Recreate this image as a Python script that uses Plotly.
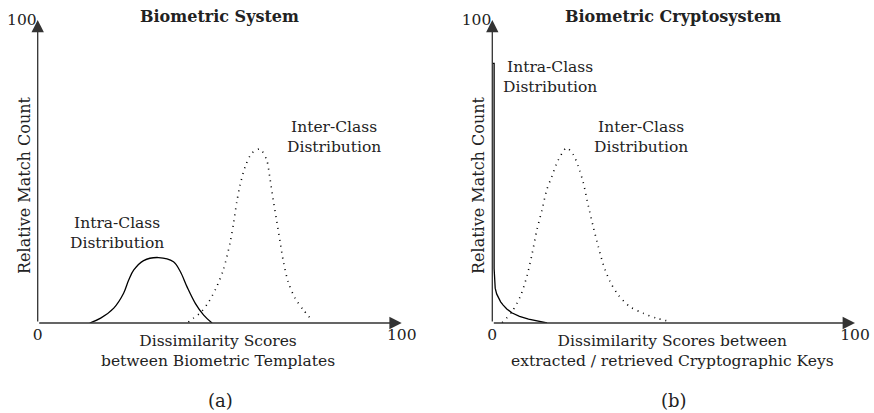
import plotly.graph_objects as go

W, H = 874, 413

# ---- data (x: dissimilarity score 0-100, y: relative match count 0-100)
a_intra_x = [14.3, 17.3, 20.9, 23.6, 25.0, 26.4, 29.1, 33.2, 37.3, 39.2, 41.0, 43.3, 45.6, 47.9]
a_intra_y = [0.0, 1.6, 4.9, 9.8, 14.2, 17.5, 20.6, 21.6, 20.2, 16.9, 12.0, 6.5, 2.6, 0.0]

a_inter_x = [41.4, 42.8, 44.7, 47.0, 49.0, 51.0, 52.9, 53.8, 54.7, 55.6, 57.0, 58.8, 61.1,
             62.9, 63.8, 64.7, 65.7, 66.6, 67.5, 68.8, 70.7, 73.0, 75.3]
a_inter_y = [0.3, 1.6, 3.4, 7.0, 11.5, 17.5, 26.8, 32.9, 40.0, 45.5, 51.6, 56.0, 57.4,
             53.8, 47.8, 40.6, 33.4, 26.8, 20.2, 13.6, 8.2, 4.3, 1.0]

b_intra_x = [0.0, 0.5, 0.5, 0.6, 0.8, 1.2, 1.7, 2.3, 3.0, 4.0, 5.5, 7.5, 10.0, 12.5, 15.1]
b_intra_y = [85.7, 85.7, 18.0, 14.0, 11.5, 9.6, 8.2, 7.0, 5.9, 4.6, 3.3, 2.2, 1.3, 0.6, 0.0]

b_inter_x = [2.7, 5.4, 7.7, 9.5, 10.9, 12.3, 13.7, 15.0, 16.4, 18.2, 20.5, 22.3, 23.7, 25.1,
             26.5, 27.8, 29.2, 30.6, 32.4, 34.7, 37.9, 41.6, 45.2, 49.4]
b_inter_y = [0.1, 3.7, 8.7, 15.3, 22.4, 30.7, 37.3, 43.9, 48.3, 53.8, 57.8, 55.6, 51.7, 46.2,
             38.5, 31.9, 25.3, 19.3, 13.8, 9.3, 5.4, 3.2, 1.6, 0.4]

titles = ["Biometric System", "Biometric Cryptosystem"]
y_title = "Relative Match Count"
x_titles = ["Dissimilarity Scores<br>between Biometric Templates",
            "Dissimilarity Scores between<br>extracted / retrieved Cryptographic Keys"]
panel_tags = ["(a)", "(b)"]
x_ticks = [0, 100]
y_ticks = [100]
tick_text = ["0", "100"]

FONT = "DejaVu Serif"
TXT = "#222222"
FS = 15.5


def px(x):
    return x / W


def py(y):
    return 1 - y / H


fig = go.Figure()

solid = dict(color="black", width=1.3, shape="spline", smoothing=1.0)
dotted = dict(color="black", width=1.6, dash="1px,5px", shape="spline", smoothing=0.8)

fig.add_trace(go.Scatter(x=a_intra_x, y=a_intra_y, mode="lines", line=solid, xaxis="x", yaxis="y"))
fig.add_trace(go.Scatter(x=a_inter_x, y=a_inter_y, mode="lines", line=dotted, xaxis="x", yaxis="y"))
fig.add_trace(go.Scatter(x=b_intra_x, y=b_intra_y, mode="lines",
                         line=dict(color="black", width=1.3, shape="linear"),
                         xaxis="x2", yaxis="y2"))
fig.add_trace(go.Scatter(x=b_inter_x, y=b_inter_y, mode="lines", line=dotted, xaxis="x2", yaxis="y2"))

ydom = [py(323), py(20)]
xdoms = [[px(37.7), px(401.7)], [px(492.3), px(855)]]

axcommon = dict(showgrid=False, zeroline=False, showline=False, ticks="", automargin=False,
                tickfont=dict(family=FONT, size=FS, color=TXT), fixedrange=True)

fig.update_layout(
    width=W, height=H,
    margin=dict(l=0, r=0, t=0, b=0, autoexpand=False),
    paper_bgcolor="white", plot_bgcolor="white",
    showlegend=False,
    xaxis=dict(domain=xdoms[0], range=[0, 100], anchor="y", tickvals=x_ticks, ticktext=tick_text, **axcommon),
    yaxis=dict(domain=ydom, range=[0, 100], anchor="x", tickvals=y_ticks, ticktext=["100"], **axcommon),
    xaxis2=dict(domain=xdoms[1], range=[0, 100], anchor="y2", tickvals=x_ticks, ticktext=tick_text, **axcommon),
    yaxis2=dict(domain=ydom, range=[0, 100], anchor="x2", tickvals=y_ticks, ticktext=["100"], **axcommon),
)

ann = []
# axis arrows
for xr, yr in (("x", "y"), ("x2", "y2")):
    ann.append(dict(x=100, y=0, ax=0, ay=0, xref=xr, yref=yr, axref=xr, ayref=yr,
                    text="", showarrow=True, arrowhead=2, arrowsize=1.9, arrowwidth=1.3,
                    arrowcolor="#333333", standoff=0, startstandoff=0))
    ann.append(dict(x=0, y=100, ax=0, ay=0, xref=xr, yref=yr, axref=xr, ayref=yr,
                    text="", showarrow=True, arrowhead=2, arrowsize=1.9, arrowwidth=1.3,
                    arrowcolor="#333333", standoff=0, startstandoff=0))


def label(text, x, y, size=FS, bold=False, angle=0):
    t = f"<b>{text}</b>" if bold else text
    ann.append(dict(x=px(x), y=py(y), xref="paper", yref="paper", text=t, showarrow=False,
                    xanchor="center", yanchor="middle", textangle=angle,
                    font=dict(family=FONT, size=size, color=TXT)))


label(titles[0], 219.5, 17, size=16, bold=True)
label(titles[1], 673, 17, size=16, bold=True)
label(y_title, 24, 185, size=16, angle=-90)
label(y_title, 478, 185, size=16, angle=-90)
label(x_titles[0], 218, 351)
label(x_titles[1], 672, 351)
label(panel_tags[0], 220, 400, size=18)
label(panel_tags[1], 674, 400, size=18)
label("Intra-Class<br>Distribution", 117, 233)
label("Inter-Class<br>Distribution", 334, 137)
label("Intra-Class<br>Distribution", 550, 77)
label("Inter-Class<br>Distribution", 641, 137)

fig.update_layout(annotations=ann)

fig.write_html("out.html", config={"displayModeBar": False},
               post_script="document.body.style.margin='0px';document.body.style.overflow='hidden';")
